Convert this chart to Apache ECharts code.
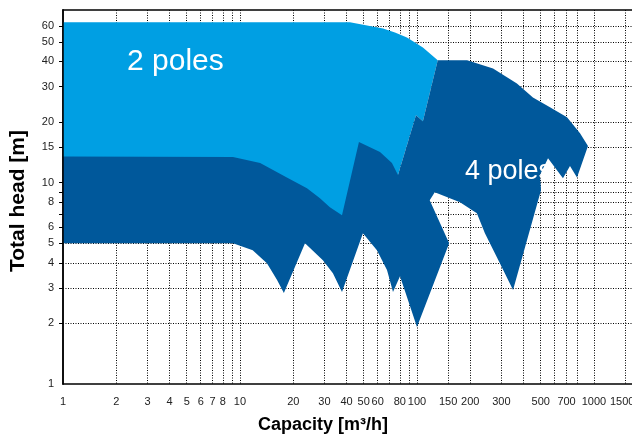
<!DOCTYPE html>
<html><head><meta charset="utf-8">
<script src="https://cdn.jsdelivr.net/npm/echarts@6/dist/echarts.min.js"></script>
<style>html,body{margin:0;padding:0;background:#fff}#c{width:632px;height:438px}</style>
</head><body><div id="c"></div>
<script>
// Tick labels and grid-line positions
const xTickLabels = [1,2,3,4,5,6,7,8,10,20,30,40,50,60,80,100,150,200,300,500,700,1000,1500];
const xGridValues = [2,3,4,5,6,7,8,9,10,20,30,40,50,60,70,80,90,100,150,200,300,400,500,600,700,800,1000,1500];
const yTickLabels = [1,2,3,4,5,6,8,10,15,20,30,40,50,60];
const yGridValues = [2,3,4,5,6,7,8,9,10,15,20,30,40,50,60];

// 2 poles region outline (capacity m3/h, head m)
const twoPoleCapacity = [1, 41.8, 64.3, 75.1, 87.8, 108, 131, 108, 98.7, 78.1, 78.1, 37.7, 9.13, 1];
const twoPoleHead     = [62.5, 62.5, 58.3, 55.7, 52.6, 46.9, 40.5, 20.2, 21.6, 10.9, 9.17, 5.8, 11.5, 11.5];

// 4 poles region outline (capacity m3/h, head m)
const fourPoleCapacity = [1, 9.13, 13.0, 18.4, 23.9, 28.3, 32.2, 37.7, 47.0, 61.8, 72.2, 78.1, 98.7, 108, 131, 192, 269, 367, 452, 564, 704, 834, 925, 802, 732, 668, 550, 495, 502, 349, 294, 242, 218, 175, 126, 118, 152, 100, 80.2, 73.2, 67.7, 59.4, 49.5, 37.7, 33.5, 29.4, 23.3, 17.7, 16.2, 14.2, 11.8, 9.13, 1];
const fourPoleHead     = [13.5, 13.4, 12.5, 10.6, 9.38, 8.37, 7.55, 6.89, 15.9, 14.2, 12.5, 10.9, 21.6, 20.2, 40.5, 40.5, 36.9, 31.1, 26.5, 23.7, 21.1, 17.6, 15.2, 10.6, 12.1, 10.5, 13.2, 10.9, 9.17, 2.93, 3.98, 5.61, 7.05, 8.0, 8.96, 8.18, 5.0, 1.92, 3.43, 2.86, 3.68, 4.62, 5.61, 2.86, 3.55, 4.12, 5.0, 2.83, 3.28, 3.98, 4.62, 5.0, 5.0];

const xMin = 1, xMax = 1640, yMin = 1, yMax = 72;

function zip(a, b) { return a.map((v, i) => [v, b[i]]); }
function polygonSeries(name, pts, color, z) {
  return {
    name: name, type: 'custom', z: z, silent: true,
    xAxisIndex: 0, yAxisIndex: 0,
    encode: { x: 0, y: 1 },
    data: pts,
    renderItem: function (params, api) {
      if (params.dataIndex !== 0) return null;
      const points = pts.map(p => api.coord(p));
      return { type: 'polygon', shape: { points: points }, style: { fill: color, stroke: null } };
    }
  };
}
const fmt = v => String(Math.round(v * 100) / 100);
const narrow = "'Liberation Sans Narrow', 'Liberation Sans', Arial, sans-serif";
const dotted = { type: [1, 1.5], color: '#000', width: 1 };
const lastX = xTickLabels[xTickLabels.length - 1];

const chart = echarts.init(document.getElementById('c'), null, { renderer: 'canvas' });
chart.setOption({
  animation: false,
  backgroundColor: '#fff',
  grid: { left: 63, right: 0, top: 10, bottom: 54, containLabel: false, outerBoundsMode: 'none' },
  xAxis: [{
    type: 'log', logBase: 10, min: xMin, max: xMax, position: 'bottom',
    axisLine: { show: true, lineStyle: { color: '#000', width: 1.5 } },
    axisTick: { show: false, customValues: xGridValues },
    axisLabel: {
      customValues: xTickLabels,
      formatter: v => (Math.round(v) === lastX ? '{r|' + fmt(v) + '}' : fmt(v)),
      rich: { r: { padding: [0, 6, 0, 0], fontSize: 11, color: '#222', fontFamily: narrow } },
      fontSize: 11, color: '#222', margin: 12, fontFamily: narrow
    },
    splitLine: { show: true, lineStyle: dotted },
    minorTick: { show: false }, minorSplitLine: { show: false }
  }, {
    type: 'log', logBase: 10, min: xMin, max: xMax, position: 'top', z: 10,
    axisLine: { show: true, lineStyle: { color: '#000', width: 1.5 } },
    axisTick: { show: false }, axisLabel: { show: false }, splitLine: { show: false }
  }],
  yAxis: [{
    type: 'log', logBase: 10, min: yMin, max: yMax, position: 'left',
    axisLine: { show: true, lineStyle: { color: '#000', width: 1.5 } },
    axisTick: { show: true, length: 4, customValues: yGridValues, lineStyle: { color: '#000' } },
    axisLabel: { customValues: yTickLabels, formatter: fmt, fontSize: 11, color: '#222', margin: 9, fontFamily: "'Liberation Sans', Arial, sans-serif" },
    splitLine: { show: true, lineStyle: dotted },
    minorTick: { show: false }, minorSplitLine: { show: false }
  }, {
    type: 'log', logBase: 10, min: yMin, max: yMax, position: 'left', z: 10,
    axisLine: { show: true, lineStyle: { color: '#000', width: 1.5 } },
    axisTick: { show: false }, axisLabel: { show: false }, splitLine: { show: false }
  }],
  series: [
    polygonSeries('2 poles', zip(twoPoleCapacity, twoPoleHead), '#009FE3', 2),
    polygonSeries('4 poles', zip(fourPoleCapacity, fourPoleHead), '#00589B', 3)
  ],
  graphic: [
    { type: 'text', z: 20, x: 127, y: 62, style: { text: '2 poles', fill: '#fff', fontSize: 30, fontFamily: "'Liberation Sans', Arial, sans-serif", align: 'left', verticalAlign: 'middle' } },
    { type: 'text', z: 20, x: 465, y: 172, style: { text: '4 poles', fill: '#fff', fontSize: 27, fontFamily: "'Liberation Sans', Arial, sans-serif", align: 'left', verticalAlign: 'middle' } },
    { type: 'text', z: 20, x: 323, y: 425, style: { text: 'Capacity [m³/h]', fill: '#000', fontSize: 18, fontWeight: 'bold', fontFamily: "'Liberation Sans', Arial, sans-serif", align: 'center', verticalAlign: 'middle' } },
    { type: 'text', z: 20, x: 18, y: 201, rotation: Math.PI / 2, style: { text: 'Total head [m]', fill: '#000', fontSize: 21, fontWeight: 'bold', fontFamily: "'Liberation Sans', Arial, sans-serif", align: 'center', verticalAlign: 'middle' } }
  ]
});
</script></body></html>
